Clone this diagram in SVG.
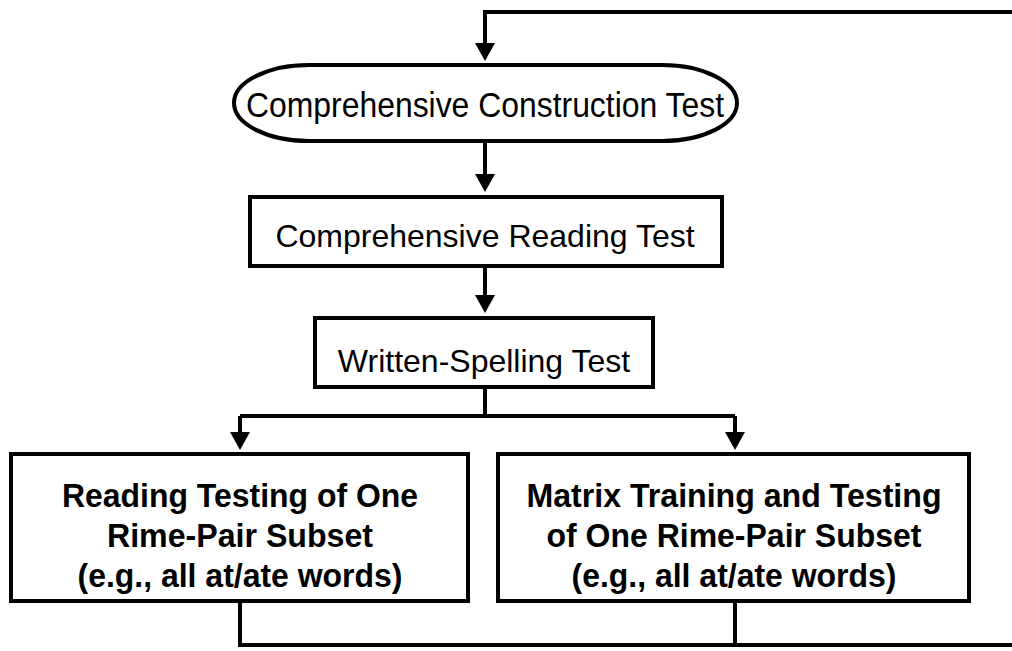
<svg xmlns="http://www.w3.org/2000/svg" width="1012" height="651" viewBox="0 0 1012 651">
<style>
.ln{fill:none;stroke:#000;stroke-width:4}
.bx{fill:#fff;stroke:#000;stroke-width:4}
.t{font-family:"Liberation Sans",Arial,sans-serif;font-size:32px;fill:#000;text-anchor:middle}
.c{font-family:"Liberation Sans",Arial,sans-serif;font-size:35px;fill:#000;text-anchor:middle}
.b{font-family:"Liberation Sans",Arial,sans-serif;font-size:34px;font-weight:bold;fill:#000;text-anchor:middle}
</style>
<defs>
<marker id="ah" markerWidth="5" markerHeight="5" refX="1" refY="2.5" orient="auto" markerUnits="strokeWidth">
<path d="M0,0 L4.5,2.5 L0,5 z" fill="#000"/>
</marker>
</defs>
<g id="connectors">
<path class="ln" d="M1012,12 H485 V47" marker-end="url(#ah)"/>
<path class="ln" d="M485,141 V178" marker-end="url(#ah)"/>
<path class="ln" d="M485,266 V299" marker-end="url(#ah)"/>
<path class="ln" d="M485,387 V416"/>
<path class="ln" d="M240,416 H735"/>
<path class="ln" d="M240,416 V436" marker-end="url(#ah)"/>
<path class="ln" d="M735,416 V436" marker-end="url(#ah)"/>
<path class="ln" d="M240,601 V645 H1012"/>
<path class="ln" d="M735,601 V645"/>
</g>
<g id="n1">
<rect class="bx" x="234" y="65" width="503" height="76" rx="75" ry="38"/>
<text class="c" x="485" y="117" textLength="478" lengthAdjust="spacingAndGlyphs">Comprehensive Construction Test</text>
</g>
<g id="n2">
<rect class="bx" x="250" y="197" width="472" height="69"/>
<text class="t" x="485" y="247">Comprehensive Reading Test</text>
</g>
<g id="n3">
<rect class="bx" x="315" y="318" width="338" height="69"/>
<text class="t" x="484" y="372">Written-Spelling Test</text>
</g>
<g id="n4">
<rect class="bx" x="11" y="454" width="457" height="147"/>
<text class="b" x="240" y="507" textLength="356" lengthAdjust="spacingAndGlyphs">Reading Testing of One</text>
<text class="b" x="240" y="547" textLength="266" lengthAdjust="spacingAndGlyphs">Rime-Pair Subset</text>
<text class="b" x="240" y="587" textLength="325" lengthAdjust="spacingAndGlyphs">(e.g., all at/ate words)</text>
</g>
<g id="n5">
<rect class="bx" x="498" y="454" width="471" height="147"/>
<text class="b" x="734" y="507" textLength="415" lengthAdjust="spacingAndGlyphs">Matrix Training and Testing</text>
<text class="b" x="734" y="547" textLength="375" lengthAdjust="spacingAndGlyphs">of One Rime-Pair Subset</text>
<text class="b" x="734" y="587" textLength="325" lengthAdjust="spacingAndGlyphs">(e.g., all at/ate words)</text>
</g>
</svg>
